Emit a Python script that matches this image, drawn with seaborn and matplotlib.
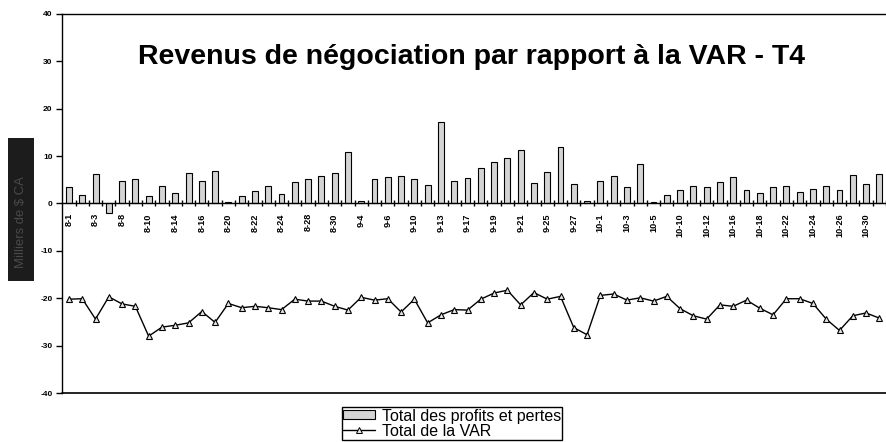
import numpy as np
import pandas as pd
import seaborn as sns
import matplotlib.pyplot as plt
from matplotlib.patches import Rectangle
from matplotlib.lines import Line2D

# daily P&L (bars) and VAR (line), in thousands of CAD
pnl = [3.4, 1.7, 6.2, -2.1, 4.8, 5.1, 1.5, 3.6, 2.2, 6.4,
       4.8, 6.9, 0.4, 1.5, 2.6, 3.6, 2.0, 4.5, 5.1, 5.7,
       6.4, 10.8, 0.6, 5.1, 5.5, 5.9, 5.1, 4.0, 17.3, 4.7,
       5.3, 7.5, 8.7, 9.7, 11.2, 4.3, 6.6, 12.0, 4.2, 0.6,
       4.7, 5.7, 3.5, 8.3, 0.4, 1.7, 2.8, 3.6, 3.5, 4.5,
       5.5, 2.9, 2.2, 3.5, 3.7, 2.4, 3.1, 3.7, 2.8, 6.1,
       4.2, 6.2]
var = [-20.2, -20.1, -24.4, -19.7, -21.2, -21.7, -28.0, -26.1, -25.7, -25.2,
       -22.8, -25.1, -21.1, -22.0, -21.7, -22.0, -22.4, -20.2, -20.6, -20.6,
       -21.7, -22.5, -19.8, -20.4, -20.1, -22.9, -20.2, -25.2, -23.5, -22.4,
       -22.5, -20.2, -18.9, -18.3, -21.4, -18.8, -20.2, -19.6, -26.2, -27.7,
       -19.4, -19.1, -20.4, -19.9, -20.6, -19.6, -22.2, -23.7, -24.4, -21.4,
       -21.7, -20.4, -22.1, -23.5, -20.1, -20.1, -21.1, -24.4, -26.8, -23.7,
       -23.1, -24.2]
date_labels = ['8-1', '8-3', '8-8', '8-10', '8-14', '8-16', '8-20', '8-22', '8-24',
               '8-28', '8-30', '9-4', '9-6', '9-10', '9-13', '9-17', '9-19', '9-21',
               '9-25', '9-27', '10-1', '10-3', '10-5', '10-10', '10-12', '10-16',
               '10-18', '10-22', '10-24', '10-26', '10-30']
y_ticks = [-40, -30, -20, -10, 0, 10, 20, 30, 40]

df = pd.DataFrame({'jour': np.arange(len(pnl)), 'pnl': pnl, 'var': var})

sns.set_style('white')
plt.rcParams['font.family'] = ['Liberation Sans', 'DejaVu Sans']
plt.rcParams['text.color'] = 'black'
plt.rcParams['xtick.color'] = 'black'
plt.rcParams['ytick.color'] = 'black'

fig = plt.figure(figsize=(8.86, 4.42), dpi=100)
ax = fig.add_axes([62.3 / 886, 1 - 393 / 442, 1 - 62.3 / 886, (393 - 14) / 442])

bar_color = '#d4d4d4'
sns.barplot(data=df, x='jour', y='pnl', color=bar_color, width=0.45,
            edgecolor='black', linewidth=0.8, saturation=1, ax=ax)
ax.plot(df['jour'], df['var'], color='black', lw=1, marker='^', markersize=5,
        markerfacecolor='#e6e6e6', markeredgecolor='black', markeredgewidth=0.8)

ax.set_ylim(-40, 40)
ax.set_xlim(-0.5, 60.97)
ax.set_xlabel('')
ax.set_ylabel('')

for s in ['left', 'top', 'bottom']:
    ax.spines[s].set_color('black')
    ax.spines[s].set_linewidth(1)
ax.spines['right'].set_visible(False)
ax.spines['bottom'].set_position(('data', 0))
ax.axhline(-40, color='black', lw=1.2, clip_on=False)

ax.set_yticks(y_ticks)
ax.set_yticklabels([str(v) for v in y_ticks], fontsize=6, fontweight='bold')
ax.tick_params(axis='y', direction='out', length=4, width=1, pad=3, left=True)

ax.set_xticks(np.arange(0, len(pnl), 2))
ax.set_xticklabels(date_labels, rotation=90, fontsize=6.6, fontweight='bold')
ax.set_xticks(np.arange(0.5, len(pnl), 1), minor=True)
ax.tick_params(axis='x', which='major', length=0, pad=7, bottom=True)
ax.tick_params(axis='x', which='minor', direction='inout', length=5, width=1, bottom=True)

fig.text(471.5 / 886, 1 - 64.3 / 442, 'Revenus de négociation par rapport à la VAR - T4',
         ha='center', va='baseline', fontsize=20.5, fontweight='bold', color='black')

# y-axis label in its dark box
fig.patches.append(Rectangle((8 / 886, 1 - 281 / 442), 26 / 886, 143 / 442,
                             transform=fig.transFigure, facecolor='#1c1c1c',
                             edgecolor='none', zorder=0))
fig.text(21 / 886, 1 - 222 / 442, 'Milliers de $ CA', rotation=90,
         ha='center', va='center', fontsize=9.4, color='#4a4a4a')

handles = [Rectangle((0, 0), 1, 1, facecolor=bar_color, edgecolor='black', linewidth=0.8),
           Line2D([], [], color='black', lw=1, marker='^', markersize=4,
                  markerfacecolor='#e6e6e6', markeredgecolor='black', markeredgewidth=0.7)]
leg = fig.legend(handles, ['Total des profits et pertes', 'Total de la VAR'],
                 loc='upper center', bbox_to_anchor=(452 / 886, 1 - 407 / 442),
                 fontsize=11.5, frameon=True, fancybox=False, edgecolor='black',
                 framealpha=1, labelspacing=0.0, handlelength=2.0, handleheight=0.5,
                 handletextpad=0.4, borderpad=0.1, borderaxespad=0)
leg.get_frame().set_linewidth(1)

fig.savefig('out.png', dpi=100)
